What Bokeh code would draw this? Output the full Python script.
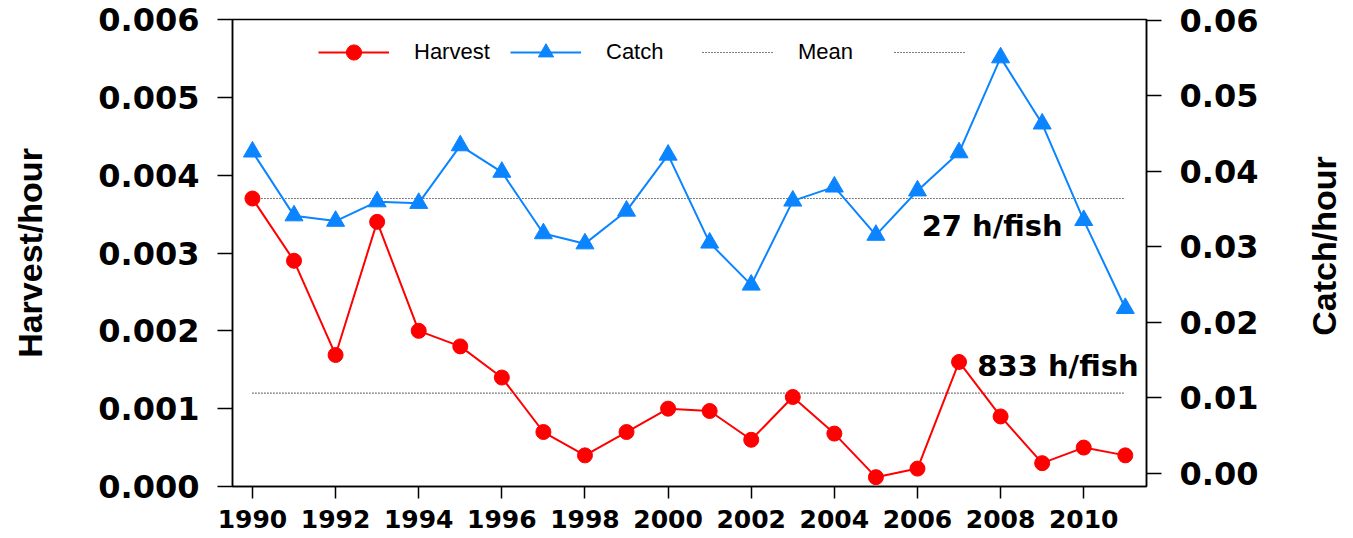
import math
from bokeh.plotting import figure
from bokeh.layouts import row
from bokeh.models import (Range1d, LinearAxis, FixedTicker, Legend, LegendItem,
                          PrintfTickFormatter)
from bokeh.core.properties import value
from bokeh.embed import file_html
from bokeh.resources import INLINE

# ---------------- data ----------------
years = list(range(1990, 2012))
harvest = [0.00370, 0.00290, 0.00169, 0.00340, 0.00200, 0.00180, 0.00140,
           0.00070, 0.00040, 0.00070, 0.00100, 0.00097, 0.00060, 0.00115,
           0.00068, 0.00012, 0.00023, 0.00160, 0.00090, 0.00030, 0.00050,
           0.00040]
catch = [0.0430, 0.0348, 0.0341, 0.0366, 0.0364, 0.0438, 0.0404, 0.0325,
         0.0312, 0.0354, 0.0426, 0.0313, 0.0259, 0.0367, 0.0385, 0.0323,
         0.0380, 0.0429, 0.0551, 0.0466, 0.0342, 0.0229]
harvest_mean = 0.0012
catch_mean = 0.037
harvest_note = "833 h/fish"
catch_note = "27 h/fish"
right_title_text = "Catch/hour"
x_ticks = [1990, 1992, 1994, 1996, 1998, 2000, 2002, 2004, 2006, 2008, 2010]
left_ticks = [0.000, 0.001, 0.002, 0.003, 0.004, 0.005, 0.006]
right_ticks = [0.00, 0.01, 0.02, 0.03, 0.04, 0.05, 0.06]

RED = "#ff0000"
BLUE = "#0a84ff"
TICK_FONT = "DejaVu Sans"
LABEL_FONT = "Liberation Sans"

p = figure(width=1300, height=538,
           x_range=Range1d(1989.52, 2011.51), y_range=Range1d(0, 0.006),
           output_backend="svg", toolbar_location=None,
           min_border_left=232, min_border_right=154,
           min_border_top=19, min_border_bottom=52)
p.extra_y_ranges = {"catch": Range1d(0, 0.06),
                    "catch_axis": Range1d(-0.00175, 0.0601)}
p.xgrid.visible = False
p.ygrid.visible = False
p.outline_line_color = "black"
p.outline_line_width = 1.5
p.background_fill_color = "white"
p.border_fill_color = "white"

# bottom axis
xa = p.xaxis[0]
xa.ticker = FixedTicker(ticks=x_ticks)
xa.major_tick_out = 12
xa.major_tick_in = 0
xa.minor_tick_line_color = None
xa.major_label_standoff = 11
xa.major_label_text_font = TICK_FONT
xa.major_label_text_font_style = "bold"
xa.major_label_text_font_size = "25px"
xa.major_label_text_color = "black"
xa.axis_line_color = "black"
xa.axis_line_width = 1.5
xa.major_tick_line_width = 1.5

# left axis
ya = p.yaxis[0]
ya.ticker = FixedTicker(ticks=left_ticks)
ya.formatter = PrintfTickFormatter(format="%.3f")
ya.major_tick_out = 15
ya.major_tick_in = 0
ya.minor_tick_line_color = None
ya.major_label_standoff = 18
ya.major_label_text_font = TICK_FONT
ya.major_label_text_font_style = "bold"
ya.major_label_text_font_size = "32px"
ya.major_label_text_color = "black"
ya.axis_line_color = "black"
ya.axis_line_width = 1.5
ya.major_tick_line_width = 1.5
ya.axis_label = "Harvest/hour"
ya.axis_label_text_font = LABEL_FONT
ya.axis_label_text_font_style = "bold"
ya.axis_label_text_font_size = "34px"
ya.axis_label_text_color = "black"
ya.axis_label_standoff = 46

# right axis
ra = LinearAxis(y_range_name="catch_axis", ticker=FixedTicker(ticks=right_ticks),
                formatter=PrintfTickFormatter(format="%.2f"))
ra.major_tick_out = 15
ra.major_tick_in = 0
ra.minor_tick_line_color = None
ra.major_label_standoff = 18
ra.major_label_text_font = TICK_FONT
ra.major_label_text_font_style = "bold"
ra.major_label_text_font_size = "32px"
ra.major_label_text_color = "black"
ra.axis_line_color = "black"
ra.axis_line_width = 1.5
ra.major_tick_line_width = 1.5
p.add_layout(ra, "right")

# mean lines
m_h = p.line([years[0], years[-1]], [harvest_mean, harvest_mean],
             line_color="black", line_width=1.2, line_dash="1 2")
m_c = p.line([years[0], years[-1]], [catch_mean, catch_mean],
             y_range_name="catch", line_color="black", line_width=1.2,
             line_dash="1 2")

# series
h_l = p.line(years, harvest, line_color=RED, line_width=2)
h_p = p.scatter(years, harvest, marker="circle", size=15,
                fill_color=RED, line_color=RED)
c_l = p.line(years, catch, y_range_name="catch", line_color=BLUE, line_width=2)
c_p = p.scatter(years, catch, y_range_name="catch", marker="triangle", size=18,
                fill_color=BLUE, line_color=BLUE)

# notes
p.text(x=[2006.10], y=[0.003346], text=[catch_note],
       text_font=value(TICK_FONT), text_font_style="bold",
       text_font_size="29px", text_baseline="middle", text_align="left",
       text_color="black")
p.text(x=[2007.44], y=[0.00155], text=[harvest_note],
       text_font=value(TICK_FONT), text_font_style="bold",
       text_font_size="29px", text_baseline="middle", text_align="left",
       text_color="black")

legend = Legend(items=[
    LegendItem(label="Harvest", renderers=[h_l, h_p]),
    LegendItem(label="Catch", renderers=[c_l, c_p]),
    LegendItem(label="Mean", renderers=[m_h]),
    LegendItem(label=" ", renderers=[m_c]),
], orientation="horizontal", location=(86, 415))
legend.padding = 0
legend.margin = 0
legend.spacing = 0
legend.glyph_width = 71
legend.glyph_height = 38
legend.label_height = 38
legend.label_width = 96
legend.label_standoff = 25
legend.label_text_font = LABEL_FONT
legend.label_text_font_size = "22px"
legend.label_text_color = "black"
legend.background_fill_alpha = 0
legend.border_line_color = None
p.add_layout(legend)

# narrow strip holding the right-hand axis title (reads bottom-to-top)
t = figure(width=53, height=538, x_range=Range1d(0, 53), y_range=Range1d(0, 538),
           output_backend="svg", toolbar_location=None,
           x_axis_type=None, y_axis_type=None,
           min_border_left=0, min_border_right=0,
           min_border_top=0, min_border_bottom=0)
t.xgrid.visible = False
t.ygrid.visible = False
t.outline_line_color = None
t.background_fill_color = "white"
t.border_fill_color = "white"
t.text(x=[23], y=[277], text=[right_title_text], angle=math.pi / 2,
       text_font=value(LABEL_FONT), text_font_style="bold",
       text_font_size="34px", text_align="center",
       text_baseline="alphabetic", text_color="black")

layout = row(p, t, spacing=0)
open("out.html", "w").write(file_html(layout, INLINE))
